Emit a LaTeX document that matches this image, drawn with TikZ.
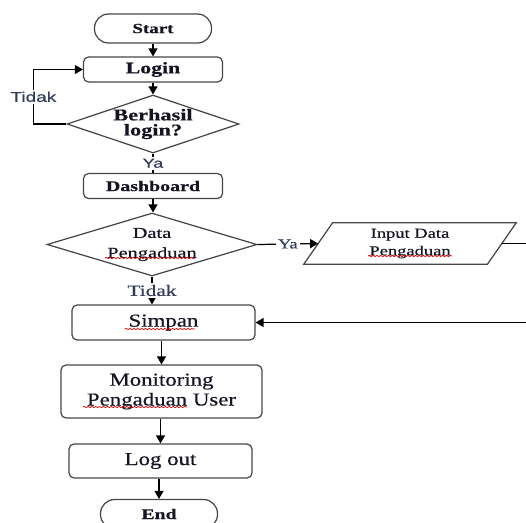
\documentclass[tikz,border=0pt]{standalone}
\usepackage{fontspec}
\setmainfont{Liberation Serif}[FakeStretch=1.25,FakeBold=0.5]
\newfontfamily\wideserif{Liberation Serif}[FakeStretch=1.35,FakeBold=0.5]
\newfontfamily\widesans{Liberation Sans}[FakeStretch=1.35,FakeBold=0.4]
\usepackage{xcolor}
\definecolor{lblcol}{RGB}{50,60,90}
\definecolor{txtcol}{RGB}{20,20,35}
\definecolor{edgecol}{RGB}{70,70,70}
\usetikzlibrary{positioning,shapes.geometric,arrows.meta,decorations.pathmorphing}

\begin{document}
\begin{tikzpicture}[x=0.02cm,y=-0.02cm,
    box/.style={draw=edgecol,line width=0.7pt,rounded corners=0.1cm,text=txtcol,inner sep=0pt},
    term/.style={box,rounded corners=0.28cm,minimum width=2.34cm,minimum height=0.58cm},
    decision/.style={diamond,draw=edgecol,line width=0.7pt,inner sep=0pt},
    iobox/.style={text=txtcol,inner sep=0pt},
    arr/.style={-{Triangle[length=1.6mm,width=1.8mm]},line width=0.7pt},
    lbl/.style={fill=white,text=lblcol,inner sep=1pt},
    squig/.style={red!85!black,line width=0.4pt,decorate,decoration={snake,amplitude=0.35pt,segment length=2.2pt}}]
    \useasboundingbox (0,0) rectangle (526,522);

    % top part
    \node[term,font=\wideserif\bfseries\fontsize{8}{9}\selectfont] (start) at (153,28.5) {Start};
    \node[box,minimum width=2.78cm,minimum height=0.5cm,font=\wideserif\bfseries\fontsize{9.2}{10}\selectfont] (login) at (153,69.5) {Login};
    \node[decision,minimum width=3.44cm,minimum height=1.16cm,
          label={[font=\wideserif\bfseries\fontsize{9.4}{8.6}\selectfont,align=center,text=txtcol]center:Berhasil\\login?}] (berhasil) at (153,124) {};
    \node[box,minimum width=2.78cm,minimum height=0.5cm,font=\wideserif\bfseries\fontsize{8.4}{9}\selectfont] (dash) at (153,186) {Dashboard};
    \node[decision,minimum width=4.2cm,minimum height=1.26cm,
          label={[font=\wideserif\fontsize{8.6}{11.3}\selectfont,align=center,text=txtcol]center:Data\\Pengaduan}] (datad) at (152,244.5) {};
    \node[iobox,minimum width=3.66cm,minimum height=0.82cm,align=center,font=\wideserif\fontsize{7.8}{10}\selectfont] (input) at (410,243.5) {Input Data\\Pengaduan};
    \draw[draw=edgecol,line width=0.7pt] ([xshift=-0.29cm]input.south west) -- ([xshift=-0.29cm]input.south east)
        -- ([xshift=0.29cm]input.north east) -- ([xshift=0.29cm]input.north west) -- cycle;

    % bottom part
    \node[box,minimum width=3.66cm,minimum height=0.7cm,font=\fontsize{10.4}{11.3}\selectfont] (simpan) at (163.5,322.5) {Simpan};
    \node[box,minimum width=4.02cm,minimum height=1.06cm,align=center,font=\fontsize{10.4}{11.3}\selectfont] (monitor) at (161.5,391.5) {Monitoring\\Pengaduan User};
    \node[box,minimum width=3.66cm,minimum height=0.68cm,font=\fontsize{10.4}{11.3}\selectfont] (logout) at (160.5,461) {Log out};
    \node[term,font=\wideserif\bfseries\fontsize{8.3}{9}\selectfont] (finish) at (159,514) {End};

    % connectors
    \draw[arr] (start) -- (login);
    \draw[arr] (login) -- (berhasil);
    \draw[arr] (berhasil.west) -- ++(-33,0) |- node[lbl,pos=0.25,font=\widesans\fontsize{8}{9}\selectfont] {Tidak} (login.west);
    \draw[line width=0.7pt] (berhasil) -- node[lbl,font=\widesans\fontsize{7.5}{8}\selectfont] {Ya} (dash);
    \draw[arr] (dash.south) -- (dash.south |- datad.north);
    \draw[arr] (datad.east) -- node[lbl,font=\wideserif\fontsize{7.8}{8}\selectfont] {Ya} (input.west);
    \draw[arr] (datad.south) -- node[lbl,font=\wideserif\fontsize{9}{9}\selectfont] {Tidak} (datad.south |- simpan.north);
    \draw[arr] (input.east) -- ++(40,0) |- (simpan.east);
    \draw[arr] (simpan.south -| monitor.north) -- (monitor.north);
    \draw[arr] (logout.north |- monitor.south) -- (logout);
    \draw[arr] (finish.north |- logout.south) -- (finish);

    % spelling marks
    \draw[squig] (105,258) -- (195,258);
    \draw[squig] (368,256) -- (452,256);
    \draw[squig] (125,329) -- (195,329);
    \draw[squig] (83,407) -- (187,407);
\end{tikzpicture}
\end{document}
